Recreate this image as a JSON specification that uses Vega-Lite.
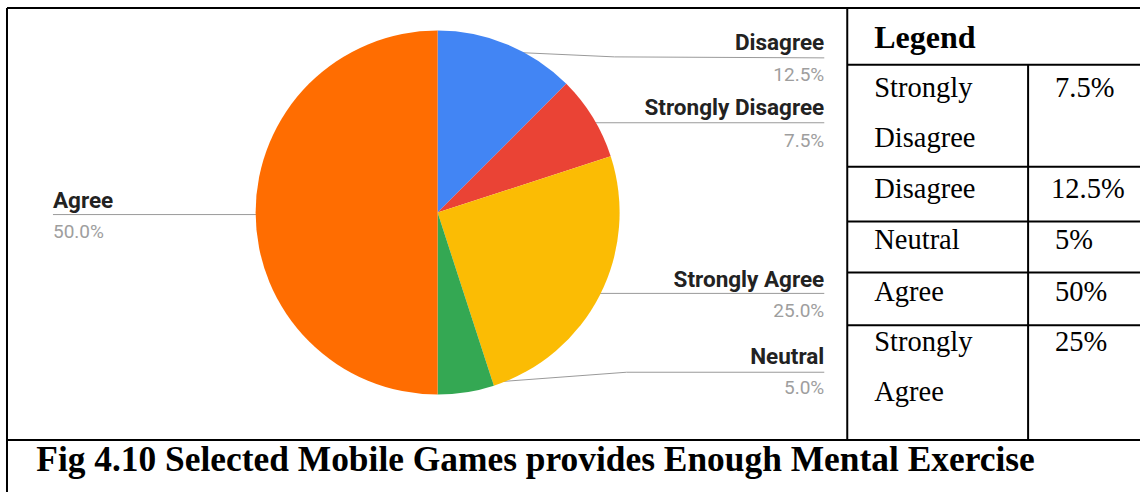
{
  "$schema": "https://vega.github.io/schema/vega-lite/v6.json",
  "width": 1141,
  "height": 493,
  "autosize": {"type": "fit", "contains": "padding"},
  "padding": 0,
  "background": "white",
  "config": {"view": {"stroke": null}, "axis": {"disable": true}},
  "datasets": {
    "slices": [
      {"category": "Disagree", "share": 0.125, "order": 1},
      {"category": "Strongly Disagree", "share": 0.075, "order": 2},
      {"category": "Strongly Agree", "share": 0.25, "order": 3},
      {"category": "Neutral", "share": 0.05, "order": 4},
      {"category": "Agree", "share": 0.5, "order": 5}
    ],
    "notes": [{"header": "Legend", "caption": "Fig 4.10 Selected Mobile Games provides Enough Mental Exercise"}],
    "blank": [{}]
  },
  "layer": [
    {
      "data": {"name": "blank"},
      "mark": {"type": "rule", "color": "#9a9a9a", "strokeWidth": 1},
      "encoding": {
        "x": {"datum": 505, "scale": {"domain": [0, 1141], "nice": false, "zero": false}},
        "x2": {"datum": 615},
        "y": {"datum": 52, "scale": {"domain": [0, 493], "reverse": true, "nice": false, "zero": false}},
        "y2": {"datum": 57}
      }
    },
    {"data": {"name": "blank"}, "mark": {"type": "rule", "color": "#9a9a9a", "strokeWidth": 1},
     "encoding": {"x": {"datum": 615}, "x2": {"datum": 825}, "y": {"datum": 57}, "y2": {"datum": 58}}},
    {"data": {"name": "blank"}, "mark": {"type": "rule", "color": "#9a9a9a", "strokeWidth": 1},
     "encoding": {"x": {"datum": 580}, "x2": {"datum": 825}, "y": {"datum": 123}}},
    {"data": {"name": "blank"}, "mark": {"type": "rule", "color": "#9a9a9a", "strokeWidth": 1},
     "encoding": {"x": {"datum": 580}, "x2": {"datum": 825}, "y": {"datum": 294}}},
    {"data": {"name": "blank"}, "mark": {"type": "rule", "color": "#9a9a9a", "strokeWidth": 1},
     "encoding": {"x": {"datum": 466}, "x2": {"datum": 627}, "y": {"datum": 385}, "y2": {"datum": 373}}},
    {"data": {"name": "blank"}, "mark": {"type": "rule", "color": "#9a9a9a", "strokeWidth": 1},
     "encoding": {"x": {"datum": 627}, "x2": {"datum": 825}, "y": {"datum": 373}}},
    {"data": {"name": "blank"}, "mark": {"type": "rule", "color": "#9a9a9a", "strokeWidth": 1},
     "encoding": {"x": {"datum": 53}, "x2": {"datum": 300}, "y": {"datum": 215}}},
    {
      "data": {"name": "slices"},
      "mark": {"type": "arc", "outerRadius": 182},
      "encoding": {
        "x": {"datum": 438},
        "y": {"datum": 213},
        "theta": {"field": "share", "type": "quantitative", "stack": true},
        "order": {"field": "order", "type": "quantitative"},
        "color": {
          "field": "category",
          "type": "nominal",
          "legend": null,
          "scale": {
            "domain": ["Disagree", "Strongly Disagree", "Strongly Agree", "Neutral", "Agree"],
            "range": ["#4285F4", "#EA4335", "#FBBC04", "#34A853", "#FF6D01"]
          }
        }
      }
    },
    {
      "data": {"name": "slices"},
      "transform": [{"filter": "datum.category === 'Disagree'"}],
      "layer": [
        {"mark": {"type": "text", "font": "Roboto", "fontWeight": "bold", "fontSize": 22.5, "align": "right", "baseline": "alphabetic", "color": "#222222"},
         "encoding": {"x": {"datum": 825}, "y": {"datum": 50}, "text": {"field": "category"}}},
        {"mark": {"type": "text", "font": "Roboto", "fontSize": 19, "align": "right", "baseline": "alphabetic", "color": "#9e9e9e"},
         "encoding": {"x": {"datum": 825}, "y": {"datum": 81}, "text": {"field": "share", "type": "quantitative", "format": ".1%"}}}
      ]
    },
    {
      "data": {"name": "slices"},
      "transform": [{"filter": "datum.category === 'Strongly Disagree'"}],
      "layer": [
        {"mark": {"type": "text", "font": "Roboto", "fontWeight": "bold", "fontSize": 22.5, "align": "right", "baseline": "alphabetic", "color": "#222222"},
         "encoding": {"x": {"datum": 825}, "y": {"datum": 115}, "text": {"field": "category"}}},
        {"mark": {"type": "text", "font": "Roboto", "fontSize": 19, "align": "right", "baseline": "alphabetic", "color": "#9e9e9e"},
         "encoding": {"x": {"datum": 825}, "y": {"datum": 147}, "text": {"field": "share", "type": "quantitative", "format": ".1%"}}}
      ]
    },
    {
      "data": {"name": "slices"},
      "transform": [{"filter": "datum.category === 'Strongly Agree'"}],
      "layer": [
        {"mark": {"type": "text", "font": "Roboto", "fontWeight": "bold", "fontSize": 22.5, "align": "right", "baseline": "alphabetic", "color": "#222222"},
         "encoding": {"x": {"datum": 825}, "y": {"datum": 288}, "text": {"field": "category"}}},
        {"mark": {"type": "text", "font": "Roboto", "fontSize": 19, "align": "right", "baseline": "alphabetic", "color": "#9e9e9e"},
         "encoding": {"x": {"datum": 825}, "y": {"datum": 318}, "text": {"field": "share", "type": "quantitative", "format": ".1%"}}}
      ]
    },
    {
      "data": {"name": "slices"},
      "transform": [{"filter": "datum.category === 'Neutral'"}],
      "layer": [
        {"mark": {"type": "text", "font": "Roboto", "fontWeight": "bold", "fontSize": 22.5, "align": "right", "baseline": "alphabetic", "color": "#222222"},
         "encoding": {"x": {"datum": 825}, "y": {"datum": 365}, "text": {"field": "category"}}},
        {"mark": {"type": "text", "font": "Roboto", "fontSize": 19, "align": "right", "baseline": "alphabetic", "color": "#9e9e9e"},
         "encoding": {"x": {"datum": 825}, "y": {"datum": 395}, "text": {"field": "share", "type": "quantitative", "format": ".1%"}}}
      ]
    },
    {
      "data": {"name": "slices"},
      "transform": [{"filter": "datum.category === 'Agree'"}],
      "layer": [
        {"mark": {"type": "text", "font": "Roboto", "fontWeight": "bold", "fontSize": 22.5, "align": "left", "baseline": "alphabetic", "color": "#222222"},
         "encoding": {"x": {"datum": 53}, "y": {"datum": 208}, "text": {"field": "category"}}},
        {"mark": {"type": "text", "font": "Roboto", "fontSize": 19, "align": "left", "baseline": "alphabetic", "color": "#9e9e9e"},
         "encoding": {"x": {"datum": 53}, "y": {"datum": 238}, "text": {"field": "share", "type": "quantitative", "format": ".1%"}}}
      ]
    },
    {"data": {"name": "blank"}, "mark": {"type": "rule", "color": "black", "strokeWidth": 2},
     "encoding": {"x": {"datum": 7}, "x2": {"datum": 1141}, "y": {"datum": 8}}},
    {"data": {"name": "blank"}, "mark": {"type": "rule", "color": "black", "strokeWidth": 2},
     "encoding": {"x": {"datum": 7}, "y": {"datum": 8}, "y2": {"datum": 493}}},
    {"data": {"name": "blank"}, "mark": {"type": "rule", "color": "black", "strokeWidth": 2},
     "encoding": {"x": {"datum": 848}, "y": {"datum": 8}, "y2": {"datum": 441}}},
    {"data": {"name": "blank"}, "mark": {"type": "rule", "color": "black", "strokeWidth": 2},
     "encoding": {"x": {"datum": 7}, "x2": {"datum": 1141}, "y": {"datum": 441}}},
    {"data": {"name": "blank"}, "mark": {"type": "rule", "color": "black", "strokeWidth": 2},
     "encoding": {"x": {"datum": 848}, "x2": {"datum": 1141}, "y": {"datum": 65}}},
    {"data": {"name": "blank"}, "mark": {"type": "rule", "color": "black", "strokeWidth": 2},
     "encoding": {"x": {"datum": 848}, "x2": {"datum": 1141}, "y": {"datum": 167}}},
    {"data": {"name": "blank"}, "mark": {"type": "rule", "color": "black", "strokeWidth": 2},
     "encoding": {"x": {"datum": 848}, "x2": {"datum": 1141}, "y": {"datum": 222}}},
    {"data": {"name": "blank"}, "mark": {"type": "rule", "color": "black", "strokeWidth": 2},
     "encoding": {"x": {"datum": 848}, "x2": {"datum": 1141}, "y": {"datum": 273}}},
    {"data": {"name": "blank"}, "mark": {"type": "rule", "color": "black", "strokeWidth": 2},
     "encoding": {"x": {"datum": 848}, "x2": {"datum": 1141}, "y": {"datum": 326}}},
    {"data": {"name": "blank"}, "mark": {"type": "rule", "color": "black", "strokeWidth": 2},
     "encoding": {"x": {"datum": 1029}, "y": {"datum": 65}, "y2": {"datum": 441}}},
    {"data": {"name": "notes"},
     "mark": {"type": "text", "font": "Liberation Serif", "fontWeight": "bold", "fontSize": 32, "align": "left", "baseline": "alphabetic", "color": "black"},
     "encoding": {"x": {"datum": 875}, "y": {"datum": 48}, "text": {"field": "header"}}},
    {
      "data": {"name": "slices"},
      "transform": [{"filter": "datum.category === 'Strongly Disagree'"}],
      "layer": [
        {"mark": {"type": "text", "font": "Liberation Serif", "fontSize": 28.5, "align": "left", "baseline": "alphabetic", "lineBreak": " ", "lineHeight": 50, "color": "black"},
         "encoding": {"x": {"datum": 875}, "y": {"datum": 97}, "text": {"field": "category"}}},
        {"mark": {"type": "text", "font": "Liberation Serif", "fontSize": 28.5, "align": "left", "baseline": "alphabetic", "color": "black"},
         "encoding": {"x": {"datum": 1056}, "y": {"datum": 97}, "text": {"field": "share", "type": "quantitative", "format": "~%"}}}
      ]
    },
    {
      "data": {"name": "slices"},
      "transform": [{"filter": "datum.category === 'Disagree'"}],
      "layer": [
        {"mark": {"type": "text", "font": "Liberation Serif", "fontSize": 28.5, "align": "left", "baseline": "alphabetic", "color": "black"},
         "encoding": {"x": {"datum": 875}, "y": {"datum": 198}, "text": {"field": "category"}}},
        {"mark": {"type": "text", "font": "Liberation Serif", "fontSize": 28.5, "align": "left", "baseline": "alphabetic", "color": "black"},
         "encoding": {"x": {"datum": 1052}, "y": {"datum": 198}, "text": {"field": "share", "type": "quantitative", "format": "~%"}}}
      ]
    },
    {
      "data": {"name": "slices"},
      "transform": [{"filter": "datum.category === 'Neutral'"}],
      "layer": [
        {"mark": {"type": "text", "font": "Liberation Serif", "fontSize": 28.5, "align": "left", "baseline": "alphabetic", "color": "black"},
         "encoding": {"x": {"datum": 875}, "y": {"datum": 250}, "text": {"field": "category"}}},
        {"mark": {"type": "text", "font": "Liberation Serif", "fontSize": 28.5, "align": "left", "baseline": "alphabetic", "color": "black"},
         "encoding": {"x": {"datum": 1056}, "y": {"datum": 250}, "text": {"field": "share", "type": "quantitative", "format": "~%"}}}
      ]
    },
    {
      "data": {"name": "slices"},
      "transform": [{"filter": "datum.category === 'Agree'"}],
      "layer": [
        {"mark": {"type": "text", "font": "Liberation Serif", "fontSize": 28.5, "align": "left", "baseline": "alphabetic", "color": "black"},
         "encoding": {"x": {"datum": 875}, "y": {"datum": 302}, "text": {"field": "category"}}},
        {"mark": {"type": "text", "font": "Liberation Serif", "fontSize": 28.5, "align": "left", "baseline": "alphabetic", "color": "black"},
         "encoding": {"x": {"datum": 1056}, "y": {"datum": 302}, "text": {"field": "share", "type": "quantitative", "format": "~%"}}}
      ]
    },
    {
      "data": {"name": "slices"},
      "transform": [{"filter": "datum.category === 'Strongly Agree'"}],
      "layer": [
        {"mark": {"type": "text", "font": "Liberation Serif", "fontSize": 28.5, "align": "left", "baseline": "alphabetic", "lineBreak": " ", "lineHeight": 50, "color": "black"},
         "encoding": {"x": {"datum": 875}, "y": {"datum": 352}, "text": {"field": "category"}}},
        {"mark": {"type": "text", "font": "Liberation Serif", "fontSize": 28.5, "align": "left", "baseline": "alphabetic", "color": "black"},
         "encoding": {"x": {"datum": 1056}, "y": {"datum": 352}, "text": {"field": "share", "type": "quantitative", "format": "~%"}}}
      ]
    },
    {"data": {"name": "notes"},
     "mark": {"type": "text", "font": "Liberation Serif", "fontWeight": "bold", "fontSize": 35.4, "align": "center", "baseline": "alphabetic", "color": "black"},
     "encoding": {"x": {"datum": 536}, "y": {"datum": 472}, "text": {"field": "caption"}}}
  ]
}
